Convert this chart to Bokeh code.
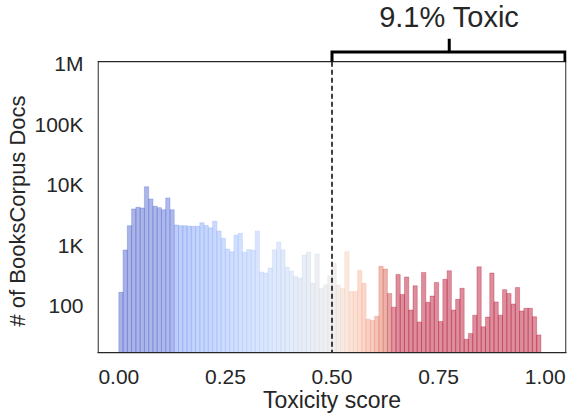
import numpy as np
from bokeh.plotting import figure
from bokeh.models import Range1d, FixedTicker, ColumnDataSource, Title
from bokeh.embed import file_html
from bokeh.resources import INLINE
from bokeh.core.properties import value

# ---------------- data ----------------
BIN_WIDTH = 0.01
COUNTS = [
    167, 835, 2110, 3990, 4260, 4150, 9300, 5850, 4430, 4200,
    3880, 6070, 3880, 2170, 2110, 2110, 2070, 2070, 2070, 2370,
    2140, 1950, 2500, 1730, 1310, 869, 784, 1480, 1580, 766,
    851, 835, 1730, 361, 348, 421, 845, 1135, 845, 437,
    376, 307, 288, 690, 774, 238, 718, 194, 223, 314,
    509, 220, 194, 784, 173, 173, 385, 235, 60, 57,
    67, 449, 405, 160, 95, 331, 154, 299, 85, 214,
    54, 357, 114, 145, 244, 55, 274, 380, 85, 128,
    195, 28, 35, 70, 441, 45, 65, 348, 116, 70,
    185, 160, 107, 200, 82, 91, 91, 66, 33,
]
X_TICKS = [0.0, 0.25, 0.5, 0.75, 1.0]
X_TICK_LABELS = ["0.00", "0.25", "0.50", "0.75", "1.00"]
Y_TICKS = [100, 1000, 10000, 100000, 1000000]
Y_TICK_LABELS = ["100", "1K", "10K", "100K", "1M"]
THRESHOLD = 0.5
TOXIC_LABEL = "9.1% Toxic"
X_LABEL = "Toxicity score"
Y_LABEL = "# of BooksCorpus Docs"

# ---------------- styling ----------------
X_START, X_END = -0.05, 1.05
Y_START, Y_END = 16.9, 1.097e6
FONT = "Liberation Sans"
TEXT_COLOR = "#262626"
FRAME_W, BOX_H = 469, 291
EXTRA = 61                      # room above the box for the bracket
LEFT_B, RIGHT_B = 97, 2

PX_DEC = BOX_H / np.log10(Y_END / Y_START)
DX = (X_END - X_START) / FRAME_W


def up(px):
    """y value px pixels above the top of the box"""
    return Y_END * 10 ** (px / PX_DEC)


Y_TOP = up(EXTRA)

# coolwarm anchors
CW_T = [0.0, 0.1, 0.2, 0.3, 0.4, 0.5, 0.6, 0.7, 0.8, 0.9, 1.0]
CW_RGB = np.array([
    (0.230, 0.299, 0.754), (0.348, 0.466, 0.888), (0.484, 0.624, 0.977),
    (0.620, 0.741, 0.996), (0.753, 0.828, 0.961), (0.865, 0.865, 0.865),
    (0.957, 0.796, 0.710), (0.969, 0.684, 0.571), (0.924, 0.524, 0.412),
    (0.829, 0.330, 0.261), (0.706, 0.016, 0.150)])
MAP_X = [0.0, 0.125, 0.13, 0.5, 0.55, 0.6, 0.65, 1.0]
MAP_T = [0.02, 0.06, 0.15, 0.5, 0.64, 0.8, 1.0, 1.0]


def cmap(x):
    t = np.interp(x, MAP_X, MAP_T)
    rgb = [np.interp(t, CW_T, CW_RGB[:, i]) for i in range(3)]
    return "#%02x%02x%02x" % tuple(int(round(c * 255)) for c in rgb)


n = len(COUNTS)
centers = np.arange(n) * BIN_WIDTH + BIN_WIDTH / 2
colors = [cmap(c) for c in centers]
src = ColumnDataSource(dict(x=centers, top=COUNTS, color=colors))

# ---------------- plot ----------------
p = figure(frame_width=FRAME_W, frame_height=BOX_H + EXTRA,
           x_range=Range1d(X_START, X_END), y_range=Range1d(Y_START, Y_TOP),
           y_axis_type="log", toolbar_location=None, output_backend="svg",
           min_border_left=LEFT_B, min_border_right=RIGHT_B,
           min_border_top=0, min_border_bottom=10)
p.vbar(x="x", width=BIN_WIDTH, top="top", bottom=1, source=src,
       fill_color="color", fill_alpha=0.45, line_color="color",
       line_alpha=0.3, line_width=1)

# threshold line (inside the box only)
p.segment(x0=[THRESHOLD], y0=[1], x1=[THRESHOLD], y1=[Y_END],
          line_color="black", line_dash="5 3", line_width=1.5)

# box (top, left, right); bottom is the x axis line
p.line(x=[X_START, X_END], y=[Y_END, Y_END], line_color=TEXT_COLOR, line_width=1.25)
p.segment(x0=[X_START + 0.6 * DX, X_END - 0.6 * DX], y0=[1, 1],
          x1=[X_START + 0.6 * DX, X_END - 0.6 * DX], y1=[Y_END, Y_END],
          line_color=TEXT_COLOR, line_width=1.25)

# bracket
br_y = up(9.4)
right_end = X_END - 1.5 * DX
mid = (THRESHOLD + X_END) / 2
p.line(x=[THRESHOLD, THRESHOLD, right_end, right_end], y=[Y_END, br_y, br_y, Y_END],
       line_color="black", line_width=3, line_join="miter")
p.segment(x0=[mid], y0=[br_y], x1=[mid], y1=[up(22.7)],
          line_color="black", line_width=3)
p.text(x=[mid], y=[up(45)], text=[TOXIC_LABEL], text_align="center",
       text_baseline="alphabetic", text_font=value(FONT),
       text_font_size="29px", text_color=TEXT_COLOR)

p.xgrid.visible = False
p.ygrid.visible = False
p.outline_line_color = None
p.background_fill_color = "white"
p.border_fill_color = "white"

p.xaxis.ticker = FixedTicker(ticks=X_TICKS, minor_ticks=[])
p.xaxis.major_label_overrides = dict(zip(X_TICKS, X_TICK_LABELS))
p.yaxis.ticker = FixedTicker(ticks=Y_TICKS, minor_ticks=[])
p.yaxis.major_label_overrides = dict(zip(Y_TICKS, Y_TICK_LABELS))
p.xaxis.axis_label = X_LABEL
for ax in (p.xaxis, p.yaxis):
    ax.axis_line_color = TEXT_COLOR
    ax.axis_line_width = 1.25
    ax.major_tick_line_color = None
    ax.minor_tick_line_color = None
    ax.major_tick_out = 0
    ax.major_tick_in = 0
    ax.major_label_text_font = FONT
    ax.major_label_text_font_size = "21px"
    ax.major_label_text_color = TEXT_COLOR
    ax.axis_label_text_font = FONT
    ax.axis_label_text_font_size = "23px"
    ax.axis_label_text_font_style = "normal"
    ax.axis_label_text_color = TEXT_COLOR
p.yaxis.axis_line_color = None
p.xaxis.major_label_standoff = 17
p.xaxis.axis_label_standoff = 0
p.yaxis.major_label_standoff = 14

p.add_layout(Title(text=Y_LABEL, align="left", offset=26, standoff=4,
                   text_font=FONT, text_font_size="22px",
                   text_font_style="normal", text_color=TEXT_COLOR), "left")

open("out.html", "w").write(file_html(p, INLINE))
